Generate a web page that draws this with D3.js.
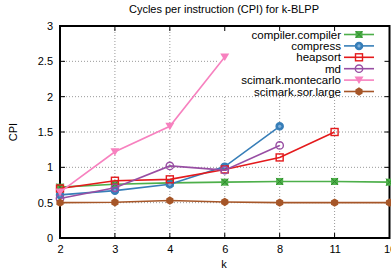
<!DOCTYPE html>
<html><head><meta charset="utf-8">
<script src="https://cdn.jsdelivr.net/npm/d3@7"></script>
<style>body{margin:0;background:#fff}text{font-family:"Liberation Sans",Arial,sans-serif;fill:#000}</style>
</head><body><svg id="c" width="391" height="273"></svg>
<script>
const categories = ["2","3","4","6","8","11","16"];
const compilerCompiler = [0.72,0.76,0.78,0.79,0.80,0.80,0.79];
const compress = [0.61,0.67,0.76,1.01,1.58,null,null];
const heapsort = [0.70,0.81,0.83,0.97,1.14,1.50,null];
const md = [0.56,0.71,1.02,0.96,1.31,null,null];
const montecarlo = [0.65,1.22,1.58,2.56,null,null,null];
const sorLarge = [0.50,0.505,0.53,0.51,0.50,0.50,0.50];
const yTicks = [0,0.5,1,1.5,2,2.5,3];
const yTickLabels = ["0","0.5","1","1.5","2","2.5","3"];

const series = [
  {name:"compiler.compiler", values:compilerCompiler, color:"#4daf4a", marker:"xsquare"},
  {name:"compress", values:compress, color:"#377eb8", marker:"fcircle"},
  {name:"heapsort", values:heapsort, color:"#e41a1c", marker:"osquare"},
  {name:"md", values:md, color:"#984ea3", marker:"ocircle"},
  {name:"scimark.montecarlo", values:montecarlo, color:"#f781bf", marker:"tri"},
  {name:"scimark.sor.large", values:sorLarge, color:"#a65628", marker:"diamond"}
];

const svg = d3.select("#c");
const L=60, R=389.5, T=26, B=238;
const x = d3.scalePoint().domain(categories).range([L,R]);
const y = d3.scaleLinear().domain([0,3]).range([B,T]);

// grid
const g = svg.append("g");
yTicks.forEach(v=>{
  if(v===0||v===3) return;
  const yy=y(v);
  const xEnd = yy<95 ? 217 : R;
  g.append("line").attr("x1",L).attr("x2",xEnd).attr("y1",yy).attr("y2",yy)
   .attr("stroke","#999").attr("stroke-width",1).attr("stroke-dasharray","1,2");
});
categories.forEach((c,i)=>{
  if(i===0||i===categories.length-1) return;
  const xx=x(c);
  const yStart = xx>217 ? 97 : T;
  g.append("line").attr("x1",xx).attr("x2",xx).attr("y1",yStart).attr("y2",B)
   .attr("stroke","#999").attr("stroke-width",1).attr("stroke-dasharray","1,2");
});

// axes
const yAxis = d3.axisLeft(y).tickValues(yTicks).tickFormat((d,i)=>yTickLabels[i]).tickSize(0).tickPadding(7);
const ya = svg.append("g").attr("transform",`translate(${L},0)`).call(yAxis);
ya.select(".domain").remove();
ya.selectAll("text").attr("font-size","11px").attr("font-family","Liberation Sans, Arial, sans-serif");
const xAxis = d3.axisBottom(x).tickSize(0).tickPadding(7);
const xa = svg.append("g").attr("transform",`translate(0,${B})`).call(xAxis);
xa.select(".domain").remove();
xa.selectAll("text").attr("font-size","11px").attr("font-family","Liberation Sans, Arial, sans-serif");

// tick marks (inward, mirrored)
const tk = svg.append("g").attr("stroke","#000").attr("stroke-width",1);
yTicks.forEach(v=>{
  tk.append("line").attr("x1",L).attr("x2",L+5).attr("y1",y(v)).attr("y2",y(v));
  tk.append("line").attr("x1",R-5).attr("x2",R).attr("y1",y(v)).attr("y2",y(v));
});
categories.forEach(c=>{
  tk.append("line").attr("x1",x(c)).attr("x2",x(c)).attr("y1",B).attr("y2",B-5);
  tk.append("line").attr("x1",x(c)).attr("x2",x(c)).attr("y1",T).attr("y2",T+5);
});

// frame
svg.append("rect").attr("x",L).attr("y",T).attr("width",R-L).attr("height",B-T)
  .attr("fill","none").attr("stroke","#000").attr("stroke-width",2);

function marker(sel, type, color){
  const s=3.5;
  if(type==="xsquare"){
    sel.append("rect").attr("x",-s).attr("y",-s).attr("width",2*s).attr("height",2*s).attr("fill",color);
    sel.append("path").attr("d",`M${-s},${-s}L${s},${s}M${-s},${s}L${s},${-s}`).attr("stroke","#2e8a2b").attr("stroke-width",1);
  } else if(type==="fcircle"){
    sel.append("circle").attr("r",3.6).attr("fill",color).attr("stroke",color).attr("stroke-width",1.3);
    sel.append("circle").attr("r",1.6).attr("fill","#7fb0dc");
  } else if(type==="osquare"){
    sel.append("rect").attr("x",-s).attr("y",-s).attr("width",2*s).attr("height",2*s).attr("fill","none").attr("stroke",color).attr("stroke-width",1.4);
  } else if(type==="ocircle"){
    sel.append("circle").attr("r",3.7).attr("fill","none").attr("stroke",color).attr("stroke-width",1.4);
  } else if(type==="tri"){
    sel.append("path").attr("d","M-4.5,-3.5L4.5,-3.5L0,4Z").attr("fill",color);
  } else if(type==="diamond"){
    sel.append("path").attr("d","M0,-4.2L3.6,-2.1L3.6,2.1L0,4.2L-3.6,2.1L-3.6,-2.1Z").attr("fill",color);
  }
}

// legend background & legend
const lg = svg.append("g");
series.forEach((s,i)=>{
  const ly = 34.5 + i*11.4;
  lg.append("text").attr("x",341).attr("y",ly).attr("dy","0.35em").attr("text-anchor","end")
    .attr("font-size","11.5px").text(s.name);
  lg.append("line").attr("x1",344).attr("x2",374).attr("y1",ly).attr("y2",ly)
    .attr("stroke",s.color).attr("stroke-width",1.6);
  marker(lg.append("g").attr("transform",`translate(359,${ly})`), s.marker, s.color);
});

// lines
const line = d3.line().defined(d=>d.v!=null).x(d=>x(d.c)).y(d=>y(d.v));
series.forEach(s=>{
  const pts = categories.map((c,i)=>({c, v:s.values[i]}));
  svg.append("path").datum(pts).attr("d",line).attr("fill","none")
    .attr("stroke",s.color).attr("stroke-width",1.6);
  pts.filter(p=>p.v!=null).forEach(p=>{
    marker(svg.append("g").attr("transform",`translate(${x(p.c)},${y(p.v)})`), s.marker, s.color);
  });
});

// labels
svg.append("text").attr("x",224).attr("y",13).attr("text-anchor","middle").attr("font-size","11px")
  .text("Cycles per instruction (CPI) for k-BLPP");
svg.append("text").attr("x",224).attr("y",268).attr("text-anchor","middle").attr("font-size","11px").text("k");
svg.append("text").attr("transform","translate(17,132) rotate(-90)").attr("text-anchor","middle")
  .attr("font-size","11px").text("CPI");
</script></body></html>
